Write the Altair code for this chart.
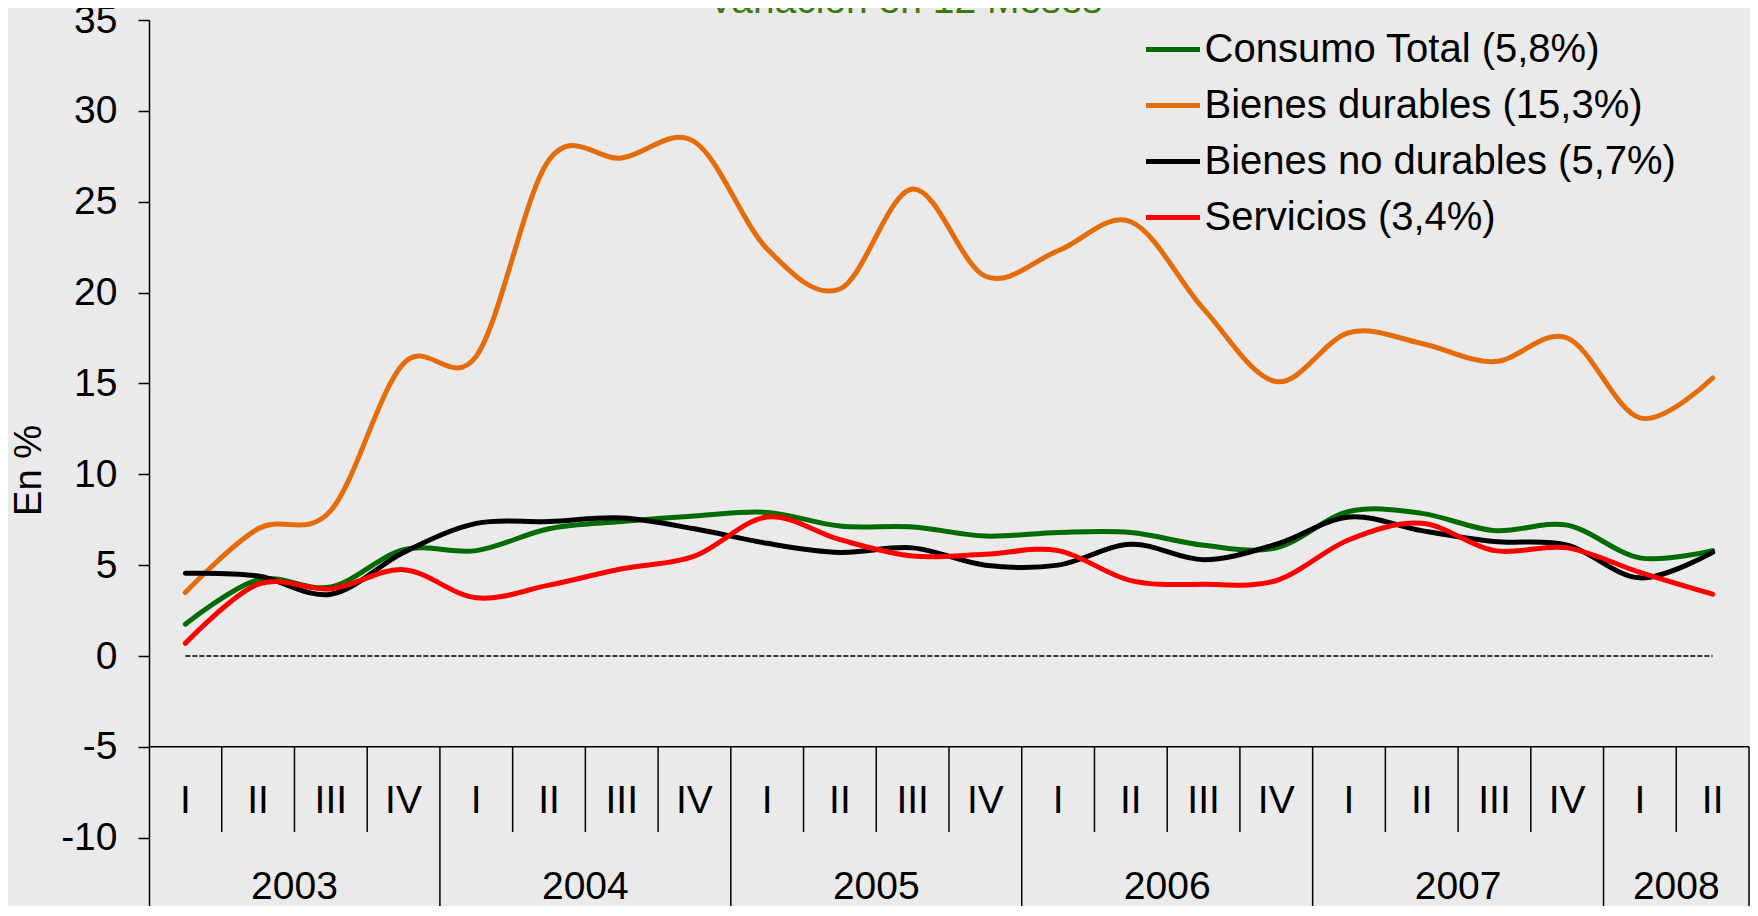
import altair as alt
import pandas as pd

# ---------------- data ----------------
years = ["2003", "2004", "2005", "2006", "2007", "2008"]
quarters_per_year = [4, 4, 4, 4, 4, 2]
quarter_names = ["I", "II", "III", "IV"]

series_names = [
    "Consumo Total (5,8%)",
    "Bienes durables (15,3%)",
    "Bienes no durables (5,7%)",
    "Servicios (3,4%)",
]
series_colors = ["#006B00", "#E46C0A", "#000000", "#FF0000"]

consumo_total = [1.75, 4.2, 3.8, 5.85, 5.8, 7.0, 7.4, 7.7, 7.9, 7.15, 7.1, 6.6,
                 6.8, 6.8, 6.1, 5.95, 7.95, 7.85, 6.9, 7.2, 5.4, 5.8]
bienes_durables = [3.5, 7.0, 8.0, 16.1, 16.5, 27.3, 27.4, 28.3, 22.4, 20.2, 25.7, 20.9,
                   22.3, 23.9, 19.1, 15.1, 17.8, 17.2, 16.2, 17.5, 13.1, 15.3]
bienes_no_durables = [4.55, 4.4, 3.4, 5.7, 7.3, 7.4, 7.6, 7.0, 6.2, 5.7, 5.95, 5.0,
                      5.0, 6.15, 5.3, 6.15, 7.65, 6.9, 6.3, 6.1, 4.3, 5.7]
servicios = [0.7, 3.95, 3.7, 4.75, 3.2, 3.9, 4.8, 5.5, 7.65, 6.4, 5.5, 5.6,
             5.8, 4.15, 3.95, 4.15, 6.4, 7.3, 5.8, 5.95, 4.6, 3.4]

y_ticks = [-10, -5, 0, 5, 10, 15, 20, 25, 30, 35]
title_text = "Variación  en 12 Meses"
y_title = "En %"

# ---------------- tables ----------------
q_labels, q_years = [], []
for yr, n in zip(years, quarters_per_year):
    for k in range(n):
        q_labels.append(quarter_names[k])
        q_years.append(yr)
n_q = len(q_labels)

all_series = [consumo_total, bienes_durables, bienes_no_durables, servicios]
rows = []
for name, vals in zip(series_names, all_series):
    for i, v in enumerate(vals):
        rows.append({"serie": name, "pos": i + 0.5, "valor": v, "orden": i})
df_lines = pd.DataFrame(rows)

df_q = pd.DataFrame({"pos": [i + 0.5 for i in range(n_q)], "lab": q_labels})

year_start, year_center = [], []
acc = 0
for n in quarters_per_year:
    year_start.append(acc)
    year_center.append(acc + n / 2)
    acc += n
df_years = pd.DataFrame({"pos": year_center, "lab": years})

# dividers: quarter boundaries (short) and year boundaries (long)
year_bounds = set(year_start[1:] + [n_q])
df_qdiv = pd.DataFrame({"pos": [b for b in range(1, n_q) if b not in year_bounds]})
df_ydiv = pd.DataFrame({"pos": sorted(year_bounds)})

# ---------------- layout ----------------
W, H = 1600, 886
PAD_L, PAD_T = 141, 12
y_min = 35 - H / (636 / 35.0)
FONT = "Liberation Sans"

xs = alt.Scale(domain=[0, n_q], nice=False, zero=False)
ys = alt.Scale(domain=[y_min, 35], nice=False, zero=False)

base_x = alt.X("pos:Q", scale=xs, axis=None)

# zero dashed reference line (also carries the y axis)
zero_line = alt.Chart(pd.DataFrame({"a": [0.5], "b": [n_q - 0.5], "y": [0]})).mark_rule(
    color="black", strokeWidth=1.5, strokeDash=[5, 2]
).encode(
    x=alt.X("a:Q", scale=xs, axis=None), x2="b:Q",
    y=alt.Y("y:Q", scale=ys, axis=alt.Axis(
        values=y_ticks, grid=False, domainColor="black", domainWidth=1.5,
        tickColor="black", tickWidth=1.5, tickSize=11, labelFont=FONT,
        labelFontSize=39, labelColor="black", labelPadding=21,
        labelExpr="toString(datum.value)",
        title=y_title, titleFont=FONT, titleFontSize=38, titleFontWeight="normal",
        titleColor="black", titleAngle=270, titleAlign="center",
        titleBaseline="middle", titleX=-120, titleY=450,
    )),
)

# category axis line at -5
cat_axis = alt.Chart(pd.DataFrame({"a": [0], "b": [n_q], "y": [-5]})).mark_rule(
    color="black", strokeWidth=1.5
).encode(x=alt.X("a:Q", scale=xs, axis=None), x2="b:Q", y=alt.Y("y:Q", scale=ys))

qdiv = alt.Chart(df_qdiv).mark_rule(color="black", strokeWidth=1.5).encode(
    x=base_x, y=alt.datum(-5, scale=ys), y2=alt.value(812)
)
ydiv = alt.Chart(df_ydiv).mark_rule(color="black", strokeWidth=1.5).encode(
    x=base_x, y=alt.datum(-5, scale=ys), y2=alt.value(H + 40)
)

lines = alt.Chart(df_lines).mark_line(
    interpolate="cardinal", strokeWidth=5, strokeCap="round", strokeJoin="round"
).encode(
    x=base_x,
    y=alt.Y("valor:Q", scale=ys),
    color=alt.Color("serie:N", scale=alt.Scale(domain=series_names, range=series_colors),
                    legend=alt.Legend(
                        title=None, orient="none", legendX=994.5, legendY=0,
                        symbolType="stroke", symbolSize=2916, symbolStrokeWidth=5,
                        labelFont=FONT, labelFontSize=40, labelColor="black",
                        labelOffset=2, labelLimit=2000, rowPadding=6, padding=0,
                    )),
    order="orden:Q",
)

q_text = alt.Chart(df_q).mark_text(
    font=FONT, fontSize=39, color="black", baseline="middle", align="center"
).encode(x=base_x, y=alt.value(780.5), text="lab:N")

y_text = alt.Chart(df_years).mark_text(
    font=FONT, fontSize=39, color="black", baseline="middle", align="center"
).encode(x=base_x, y=alt.value(867), text="lab:N")

title = alt.Chart(pd.DataFrame({"t": [title_text]})).mark_text(
    font=FONT, fontSize=39, color="#3D7A0A", baseline="alphabetic", align="center"
).encode(x=alt.value(756), y=alt.value(-7), text="t:N")

chart = alt.layer(
    zero_line, cat_axis, qdiv, ydiv, lines, q_text, y_text, title
).properties(
    width=W, height=H,
    autosize=alt.AutoSizeParams(type="none"),
    padding={"left": PAD_L, "top": PAD_T, "right": 1, "bottom": 0},
    background="#EAEAEA",
).configure_view(stroke=None)

chart.save("out.html", embed_options={"renderer": "svg", "actions": False})
